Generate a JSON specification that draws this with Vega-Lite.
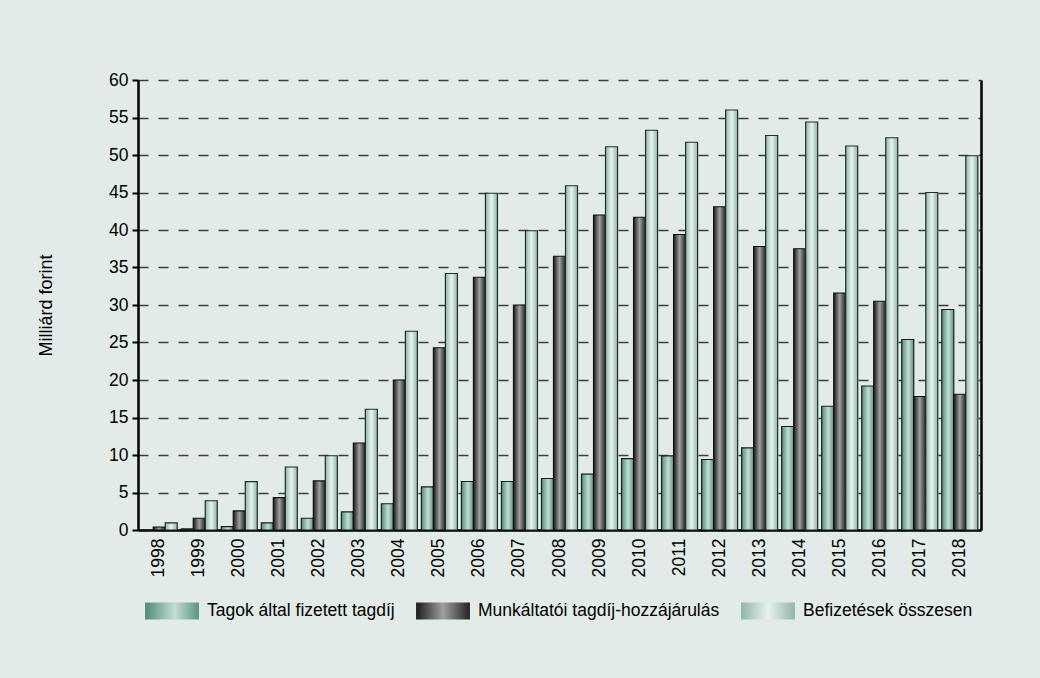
{
  "$schema": "https://vega.github.io/schema/vega-lite/v6.json",
  "width": 843,
  "height": 450,
  "autosize": {"type": "none"},
  "padding": {"left": 138, "top": 80, "right": 59, "bottom": 148},
  "background": "#e3ebe8",
  "config": {
    "font": "Liberation Sans",
    "view": {"stroke": null},
    "axis": {"labelFont": "Liberation Sans", "titleFont": "Liberation Sans", "labelColor": "#000", "titleColor": "#000"},
    "legend": {
      "labelFont": "Liberation Sans", "labelFontSize": 17.5, "labelColor": "#000", "labelLimit": 400, "labelOffset": 7,
      "orient": "bottom", "direction": "horizontal", "title": null, "padding": 6, "offset": 0,
      "symbolType": "M-1,-0.32H1V0.32H-1Z", "symbolSize": 2900, "symbolStrokeWidth": 1.2, "symbolOpacity": 1
    }
  },
  "data": {
    "values": [
      {"year": "1998", "series": "Tagok által fizetett tagdíj", "value": 0.03},
      {"year": "1998", "series": "Munkáltatói tagdíj-hozzájárulás", "value": 0.4},
      {"year": "1998", "series": "Befizetések összesen", "value": 0.95},
      {"year": "1999", "series": "Tagok által fizetett tagdíj", "value": 0.15},
      {"year": "1999", "series": "Munkáltatói tagdíj-hozzájárulás", "value": 1.57},
      {"year": "1999", "series": "Befizetések összesen", "value": 3.9},
      {"year": "2000", "series": "Tagok által fizetett tagdíj", "value": 0.45},
      {"year": "2000", "series": "Munkáltatói tagdíj-hozzájárulás", "value": 2.55},
      {"year": "2000", "series": "Befizetések összesen", "value": 6.45},
      {"year": "2001", "series": "Tagok által fizetett tagdíj", "value": 0.95},
      {"year": "2001", "series": "Munkáltatói tagdíj-hozzájárulás", "value": 4.33},
      {"year": "2001", "series": "Befizetések összesen", "value": 8.4},
      {"year": "2002", "series": "Tagok által fizetett tagdíj", "value": 1.57},
      {"year": "2002", "series": "Munkáltatói tagdíj-hozzájárulás", "value": 6.55},
      {"year": "2002", "series": "Befizetések összesen", "value": 9.9},
      {"year": "2003", "series": "Tagok által fizetett tagdíj", "value": 2.42},
      {"year": "2003", "series": "Munkáltatói tagdíj-hozzájárulás", "value": 11.6},
      {"year": "2003", "series": "Befizetések összesen", "value": 16.1},
      {"year": "2004", "series": "Tagok által fizetett tagdíj", "value": 3.5},
      {"year": "2004", "series": "Munkáltatói tagdíj-hozzájárulás", "value": 20.0},
      {"year": "2004", "series": "Befizetések összesen", "value": 26.5},
      {"year": "2005", "series": "Tagok által fizetett tagdíj", "value": 5.76},
      {"year": "2005", "series": "Munkáltatói tagdíj-hozzájárulás", "value": 24.3},
      {"year": "2005", "series": "Befizetések összesen", "value": 34.2},
      {"year": "2006", "series": "Tagok által fizetett tagdíj", "value": 6.47},
      {"year": "2006", "series": "Munkáltatói tagdíj-hozzájárulás", "value": 33.7},
      {"year": "2006", "series": "Befizetések összesen", "value": 44.9},
      {"year": "2007", "series": "Tagok által fizetett tagdíj", "value": 6.47},
      {"year": "2007", "series": "Munkáltatói tagdíj-hozzájárulás", "value": 30.0},
      {"year": "2007", "series": "Befizetések összesen", "value": 39.9},
      {"year": "2008", "series": "Tagok által fizetett tagdíj", "value": 6.87},
      {"year": "2008", "series": "Munkáltatói tagdíj-hozzájárulás", "value": 36.5},
      {"year": "2008", "series": "Befizetések összesen", "value": 45.9},
      {"year": "2009", "series": "Tagok által fizetett tagdíj", "value": 7.44},
      {"year": "2009", "series": "Munkáltatói tagdíj-hozzájárulás", "value": 42.0},
      {"year": "2009", "series": "Befizetések összesen", "value": 51.1},
      {"year": "2010", "series": "Tagok által fizetett tagdíj", "value": 9.53},
      {"year": "2010", "series": "Munkáltatói tagdíj-hozzájárulás", "value": 41.7},
      {"year": "2010", "series": "Befizetések összesen", "value": 53.3},
      {"year": "2011", "series": "Tagok által fizetett tagdíj", "value": 9.89},
      {"year": "2011", "series": "Munkáltatói tagdíj-hozzájárulás", "value": 39.4},
      {"year": "2011", "series": "Befizetések összesen", "value": 51.7},
      {"year": "2012", "series": "Tagok által fizetett tagdíj", "value": 9.4},
      {"year": "2012", "series": "Munkáltatói tagdíj-hozzájárulás", "value": 43.1},
      {"year": "2012", "series": "Befizetések összesen", "value": 56.0},
      {"year": "2013", "series": "Tagok által fizetett tagdíj", "value": 10.96},
      {"year": "2013", "series": "Munkáltatói tagdíj-hozzájárulás", "value": 37.8},
      {"year": "2013", "series": "Befizetések összesen", "value": 52.6},
      {"year": "2014", "series": "Tagok által fizetett tagdíj", "value": 13.8},
      {"year": "2014", "series": "Munkáltatói tagdíj-hozzájárulás", "value": 37.5},
      {"year": "2014", "series": "Befizetések összesen", "value": 54.4},
      {"year": "2015", "series": "Tagok által fizetett tagdíj", "value": 16.5},
      {"year": "2015", "series": "Munkáltatói tagdíj-hozzájárulás", "value": 31.6},
      {"year": "2015", "series": "Befizetések összesen", "value": 51.2},
      {"year": "2016", "series": "Tagok által fizetett tagdíj", "value": 19.2},
      {"year": "2016", "series": "Munkáltatói tagdíj-hozzájárulás", "value": 30.5},
      {"year": "2016", "series": "Befizetések összesen", "value": 52.3},
      {"year": "2017", "series": "Tagok által fizetett tagdíj", "value": 25.4},
      {"year": "2017", "series": "Munkáltatói tagdíj-hozzájárulás", "value": 17.8},
      {"year": "2017", "series": "Befizetések összesen", "value": 45.0},
      {"year": "2018", "series": "Tagok által fizetett tagdíj", "value": 29.4},
      {"year": "2018", "series": "Munkáltatói tagdíj-hozzájárulás", "value": 18.1},
      {"year": "2018", "series": "Befizetések összesen", "value": 49.9}
    ]
  },
  "encoding": {
    "x": {
      "field": "year", "type": "nominal",
      "scale": {"paddingInner": 0.1, "paddingOuter": 0.08},
      "axis": {
        "title": null, "labelAngle": -90, "labelAlign": "right", "labelBaseline": "middle",
        "labelFontSize": 17.5, "labelPadding": 8, "ticks": false,
        "domainColor": "#000", "domainWidth": 2.5
      }
    },
    "xOffset": {
      "field": "series", "type": "nominal",
      "scale": {"domain": ["Tagok által fizetett tagdíj", "Munkáltatói tagdíj-hozzájárulás", "Befizetések összesen"], "paddingInner": 0, "paddingOuter": 0}
    }
  },
  "layer": [
    {
      "transform": [{"filter": "datum.series === 'Tagok által fizetett tagdíj'"}],
      "mark": {"type": "bar", "stroke": "#16221e", "strokeWidth": 1.2,
        "color": {"gradient": "linear", "x1": 0, "x2": 1, "y1": 0, "y2": 0, "stops": [
          {"offset": 0, "color": "#4f8a78"}, {"offset": 0.55, "color": "#c4ddd3"}, {"offset": 1, "color": "#5a9482"}]}},
      "encoding": {
        "y": {
          "field": "value", "type": "quantitative",
          "scale": {"domain": [0, 60], "nice": false},
          "axis": {
            "title": "Milliárd forint", "titleFontSize": 18, "titleFontWeight": "normal", "titlePadding": 53,
            "values": [0, 5, 10, 15, 20, 25, 30, 35, 40, 45, 50, 55, 60],
            "labelFontSize": 17.5, "labelPadding": 4,
            "tickColor": "#000", "tickSize": 6, "tickWidth": 2,
            "domainColor": "#000", "domainWidth": 2.5,
            "grid": true, "gridColor": "#3c3c3c", "gridWidth": 1.3, "gridDash": [10, 10]
          }
        },
        "opacity": {
          "datum": "Tagok által fizetett tagdíj", "type": "nominal",
          "scale": {"range": [1]},
          "legend": {"symbolStrokeColor": "#16221e"}
        }
      }
    },
    {
      "transform": [{"filter": "datum.series === 'Munkáltatói tagdíj-hozzájárulás'"}],
      "mark": {"type": "bar", "stroke": "#111111", "strokeWidth": 1.2,
        "color": {"gradient": "linear", "x1": 0, "x2": 1, "y1": 0, "y2": 0, "stops": [
          {"offset": 0, "color": "#1a1a1a"}, {"offset": 0.5, "color": "#a0a0a0"}, {"offset": 1, "color": "#222222"}]}},
      "encoding": {
        "y": {"field": "value", "type": "quantitative", "scale": {"domain": [0, 60], "nice": false}, "axis": null},
        "opacity": {
          "datum": "Munkáltatói tagdíj-hozzájárulás", "type": "nominal",
          "scale": {"range": [1]},
          "legend": {"symbolStrokeColor": "#111111"}
        }
      }
    },
    {
      "transform": [{"filter": "datum.series === 'Befizetések összesen'"}],
      "mark": {"type": "bar", "stroke": "#1f2f2a", "strokeWidth": 1.2,
        "color": {"gradient": "linear", "x1": 0, "x2": 1, "y1": 0, "y2": 0, "stops": [
          {"offset": 0, "color": "#8fb5a7"}, {"offset": 0.5, "color": "#e8f2ee"}, {"offset": 1, "color": "#8fb5a7"}]}},
      "encoding": {
        "y": {"field": "value", "type": "quantitative", "scale": {"domain": [0, 60], "nice": false}, "axis": null},
        "opacity": {
          "datum": "Befizetések összesen", "type": "nominal",
          "scale": {"range": [1]},
          "legend": {"symbolStrokeColor": "#1f2f2a"}
        }
      }
    },
    {
      "mark": {"type": "bar", "opacity": 0},
      "encoding": {
        "y": {
          "field": "value", "type": "quantitative",
          "scale": {"domain": [0, 60], "nice": false},
          "axis": {"orient": "right", "title": null, "labels": false, "ticks": false, "grid": false, "domainColor": "#000", "domainWidth": 2.5}
        }
      }
    }
  ],
  "resolve": {
    "axis": {"y": "independent"},
    "scale": {"opacity": "independent"},
    "legend": {"opacity": "independent"}
  }
}
